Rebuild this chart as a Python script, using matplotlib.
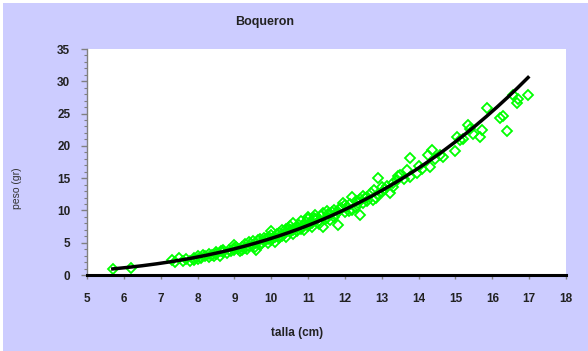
import numpy as np
import matplotlib.pyplot as plt
from matplotlib.patches import Rectangle
from matplotlib.ticker import MultipleLocator

plt.rcParams['font.family'] = ['Liberation Sans', 'DejaVu Sans']

# talla (cm) y peso (gr) de cada boqueron medido
talla = [5.7, 6.2, 7.3, 7.4, 7.6, 7.7, 7.8, 7.9, 8.0, 8.0, 8.1, 8.2, 8.3, 8.3, 8.4,
         8.5, 8.5, 8.6, 8.7, 8.7, 8.8, 8.9, 9.0, 9.0, 9.0, 9.1, 9.2, 9.2, 9.3, 9.3,
         9.4, 9.4, 9.5, 9.5, 9.6, 9.6, 9.7, 9.7, 9.8, 9.8, 9.9, 9.9, 10.0, 10.0, 10.0,
         10.1, 10.1, 10.2, 10.2, 10.3, 10.3, 10.4, 10.4, 10.5, 10.5, 10.6, 10.6, 10.6,
         10.7, 10.7, 10.8, 10.8, 10.9, 10.9, 11.0, 11.0, 11.0, 11.1, 11.1, 11.2, 11.2,
         11.3, 11.3, 11.4, 11.4, 11.5, 11.5, 11.6, 11.6, 11.7, 11.7, 11.8, 11.8, 11.9,
         11.95, 12.0, 12.0, 12.1, 12.2, 12.2, 12.3, 12.3, 12.4, 12.4, 12.5, 12.5, 12.6,
         12.6, 12.7, 12.76, 12.8, 12.9, 12.9, 13.0, 13.0, 13.1, 13.22, 13.3, 13.3, 13.4,
         13.45, 13.5, 13.6, 13.68, 13.77, 13.77, 13.95, 14.0, 14.1, 14.25, 14.3, 14.36,
         14.45, 14.58, 14.66, 14.99, 15.04, 15.12, 15.2, 15.34, 15.39, 15.47, 15.67,
         15.72, 15.85, 16.2, 16.29, 16.4, 16.56, 16.67, 16.7, 16.97,
         7.5, 7.9, 8.15, 8.45, 8.65, 8.85, 9.05, 9.15, 9.35, 9.45, 9.55, 9.65, 9.75,
         9.85, 9.95, 10.05, 10.15, 10.25, 10.35, 10.45, 10.55, 10.65, 10.75, 10.85,
         10.95, 11.05, 11.15, 11.25, 11.35, 11.45, 11.55, 11.65, 11.75, 11.85, 12.05,
         12.15, 12.35, 12.55, 12.85, 13.15]
peso = [1.0, 1.1, 2.4, 2.0, 2.2, 2.5, 2.1, 2.7, 2.5, 2.9, 2.6, 3.0, 2.8, 3.3, 3.1,
        3.6, 3.2, 3.0, 3.5, 3.9, 3.4, 3.7, 4.2, 3.8, 4.6, 4.0, 4.4, 3.9, 4.8, 4.2,
        5.1, 4.5, 4.7, 5.3, 3.9, 5.0, 5.6, 4.6, 5.2, 5.8, 4.9, 5.5, 6.2, 5.4, 6.8,
        5.9, 5.1, 6.5, 5.7, 6.9, 6.1, 7.2, 5.9, 6.6, 7.6, 6.3, 8.0, 7.0,
        7.5, 6.8, 8.4, 7.2, 7.9, 6.9, 8.6, 7.6, 9.0, 8.1, 7.4, 8.7, 9.3,
        8.3, 7.9, 9.6, 7.4, 8.9, 9.9, 8.5, 9.4, 10.1, 9.0, 7.7, 9.7, 10.4,
        11.2, 9.8, 10.8, 9.9, 12.1, 10.1, 11.4, 10.6, 9.3, 11.8, 11.1, 12.3, 12.1,
        11.5, 12.7, 11.6, 13.1, 15.0, 12.5, 13.6, 12.9, 13.3, 12.7, 13.6, 14.3, 14.7,
        15.3, 15.5, 14.9, 16.3, 15.2, 18.1, 15.8, 16.9, 16.4, 18.6, 16.7, 19.4,
        18.0, 18.6, 18.3, 19.2, 21.4, 20.9, 21.0, 23.2, 22.6, 21.8, 21.4,
        22.5, 25.9, 24.3, 24.6, 22.3, 27.9, 26.6, 27.3, 27.9,
        2.6, 2.4, 3.1, 3.0, 3.7, 3.9, 4.4, 3.7, 4.0, 4.8, 4.3, 5.4, 5.0,
        5.6, 5.9, 5.7, 6.4, 6.0, 6.4, 7.0, 6.9, 7.3, 7.8, 7.6,
        8.2, 8.0, 8.9, 8.6, 9.2, 8.6, 9.4, 9.8, 9.4, 10.2, 10.6,
        11.0, 11.1, 11.9, 12.0, 13.8]

x_ticks = list(range(5, 19))
y_ticks = list(range(0, 36, 5))

# ajuste potencial peso = a * talla^b (regresion log-log)
b, log_a = np.polyfit(np.log(talla), np.log(peso), 1)
a = np.exp(log_a)
t_fit = np.linspace(min(talla), max(talla), 200)
p_fit = a * t_fit ** b

fig = plt.figure(figsize=(5.88, 3.51), dpi=100, facecolor='white')
fig.patches.append(Rectangle((3 / 588, 0), 1, 1 - 3 / 351, transform=fig.transFigure,
                             facecolor='#CCCCFF', edgecolor='none', zorder=-1))

ax = fig.add_axes([87 / 588, 76 / 351, 479 / 588, 226 / 351])
ax.set_facecolor('white')

ax.plot(talla, peso, linestyle='none', marker='D', markersize=5,
        markerfacecolor='none', markeredgecolor='#00FF00', markeredgewidth=1.3, zorder=2)
ax.plot(t_fit, p_fit, color='black', linewidth=2.5, zorder=3)

ax.set_xlim(5, 18)
ax.set_ylim(0, 35)
ax.set_xticks(x_ticks)
ax.set_yticks(y_ticks)
ax.yaxis.set_minor_locator(MultipleLocator(1))

for side in ['top', 'right']:
    ax.spines[side].set_visible(False)
ax.spines['left'].set_color('#808080')
ax.spines['left'].set_linewidth(1)
ax.spines['bottom'].set_color('black')
ax.spines['bottom'].set_linewidth(2.2)

ax.tick_params(axis='y', which='major', direction='out', length=4, width=1,
               color='#808080', pad=8, labelsize=8.5)
ax.tick_params(axis='y', which='minor', direction='out', length=2.5, width=0.8,
               color='#808080')
ax.tick_params(axis='x', which='major', direction='out', length=3, width=1,
               color='#808080', pad=10, labelsize=8.5)
for lbl in ax.get_xticklabels() + ax.get_yticklabels():
    lbl.set_fontweight('bold')
    lbl.set_color('#222222')

fig.text(265 / 588, 1 - 22 / 351, 'Boqueron', ha='center', va='center',
         fontsize=9, fontweight='bold', color='#222222')
fig.text(297 / 588, 1 - 333 / 351, 'talla (cm)', ha='center', va='center',
         fontsize=8.5, fontweight='bold', color='#222222')
fig.text(17 / 588, 1 - 188 / 351, 'peso (gr)', ha='center', va='center',
         rotation=90, fontsize=7.5, color='#333333')

fig.savefig('out.png', dpi=100, facecolor=fig.get_facecolor())
